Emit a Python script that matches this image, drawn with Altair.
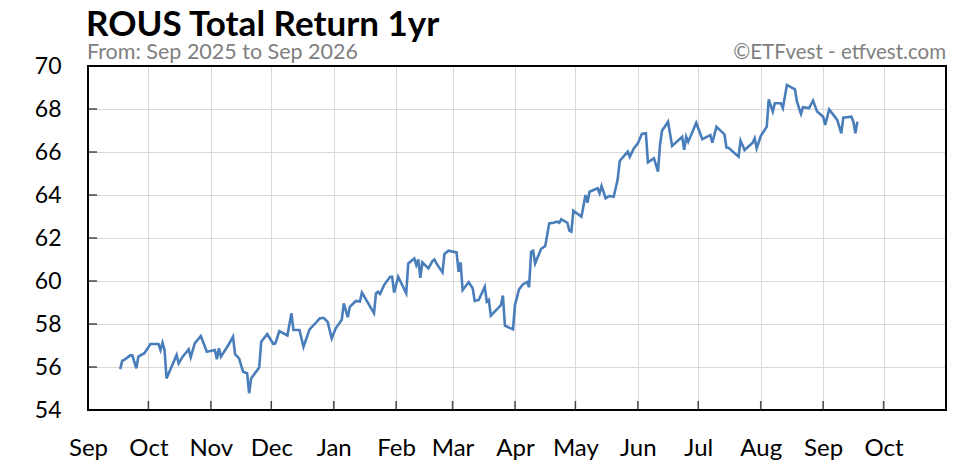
import altair as alt
import pandas as pd

title_text = "ROUS Total Return 1yr"
subtitle_text = "From: Sep 2025 to Sep 2026"
credit_text = "\u00a9ETFvest - etfvest.com"

dates = ["2025-09-17","2025-09-18","2025-09-19","2025-09-22","2025-09-23","2025-09-25","2025-09-26","2025-09-29",
         "2025-10-02","2025-10-06","2025-10-07","2025-10-08","2025-10-09","2025-10-10","2025-10-15","2025-10-16",
         "2025-10-18","2025-10-21","2025-10-22","2025-10-24","2025-10-27","2025-10-30","2025-11-03","2025-11-04",
         "2025-11-05","2025-11-06","2025-11-10","2025-11-12","2025-11-13","2025-11-15","2025-11-17","2025-11-19",
         "2025-11-20","2025-11-21","2025-11-25","2025-11-26","2025-11-29","2025-12-02","2025-12-03","2025-12-05",
         "2025-12-09","2025-12-11","2025-12-12","2025-12-15","2025-12-17","2025-12-20","2025-12-24","2025-12-25",
         "2025-12-27","2025-12-29","2025-12-31","2026-01-02","2026-01-05","2026-01-06","2026-01-08","2026-01-09",
         "2026-01-12","2026-01-14","2026-01-15","2026-01-21","2026-01-22","2026-01-23","2026-01-24","2026-01-26",
         "2026-01-29","2026-01-30","2026-01-31","2026-02-02","2026-02-06","2026-02-07","2026-02-10","2026-02-11",
         "2026-02-12","2026-02-13","2026-02-14","2026-02-17","2026-02-19","2026-02-20","2026-02-21","2026-02-24",
         "2026-02-25","2026-02-27","2026-03-03","2026-03-04","2026-03-05","2026-03-06","2026-03-09","2026-03-11",
         "2026-03-12","2026-03-14","2026-03-17","2026-03-18","2026-03-19","2026-03-20","2026-03-25","2026-03-26",
         "2026-03-27","2026-03-31","2026-04-01","2026-04-03","2026-04-05","2026-04-07","2026-04-08","2026-04-09",
         "2026-04-10","2026-04-11","2026-04-14","2026-04-16","2026-04-18","2026-04-20","2026-04-22","2026-04-23",
         "2026-04-24","2026-04-27","2026-04-28","2026-04-29","2026-04-30","2026-05-04","2026-05-06","2026-05-07",
         "2026-05-08","2026-05-12","2026-05-13","2026-05-14","2026-05-16","2026-05-18","2026-05-20","2026-05-22",
         "2026-05-23","2026-05-27","2026-05-28","2026-05-30","2026-06-01","2026-06-03","2026-06-05","2026-06-06",
         "2026-06-09","2026-06-11","2026-06-12","2026-06-13","2026-06-16","2026-06-18","2026-06-23","2026-06-24",
         "2026-06-25","2026-06-26","2026-06-30","2026-07-03","2026-07-07","2026-07-08","2026-07-10","2026-07-14",
         "2026-07-15","2026-07-16","2026-07-21","2026-07-22","2026-07-24","2026-07-28","2026-07-29","2026-07-30",
         "2026-08-01","2026-08-04","2026-08-05","2026-08-07","2026-08-08","2026-08-11","2026-08-12","2026-08-14",
         "2026-08-18","2026-08-19","2026-08-21","2026-08-22","2026-08-25","2026-08-27","2026-08-29","2026-09-01",
         "2026-09-02","2026-09-04","2026-09-08","2026-09-10","2026-09-11","2026-09-15","2026-09-16","2026-09-17",
         "2026-09-18"]

values = [55.9,56.29,56.33,56.54,56.54,55.94,56.48,56.64,
          57.07,57.07,56.79,57.13,56.79,55.47,56.56,56.17,
          56.48,56.82,56.45,57.1,57.44,56.71,56.79,56.36,
          56.87,56.48,57.07,57.41,56.6,56.4,55.78,55.71,
          54.78,55.47,55.98,57.18,57.53,57.07,57.1,57.67,
          57.47,58.5,57.72,57.72,56.94,57.75,58.15,58.26,
          58.29,58.1,57.33,57.8,58.2,58.96,58.31,58.8,
          59.07,59.04,59.46,58.5,59.43,59.5,59.4,59.81,
          60.2,60.2,59.46,60.2,59.43,60.82,61.05,60.74,
          61.0,60.15,60.87,60.59,60.93,61.0,60.82,60.4,
          61.26,61.41,61.33,60.43,60.87,59.58,59.94,59.66,
          59.07,59.12,59.74,59.04,59.12,58.39,58.88,59.32,
          57.92,57.75,58.88,59.61,59.85,59.95,59.71,61.36,
          61.41,60.82,61.5,61.62,62.68,62.71,62.76,62.71,
          62.87,62.71,62.34,62.29,63.27,62.99,64.0,63.64,
          64.15,64.31,64.08,64.42,63.85,63.96,63.92,64.73,
          65.58,66.02,65.78,66.17,66.4,66.84,66.87,65.52,
          65.71,65.09,66.33,66.99,67.41,66.28,66.71,66.1,
          66.71,66.47,67.36,66.6,66.79,66.43,67.18,66.82,
          66.21,66.2,65.78,66.53,66.09,66.43,66.64,66.17,
          66.74,67.18,68.45,67.88,68.27,68.27,68.04,69.12,
          68.91,68.34,67.77,68.08,68.04,68.39,67.88,67.64,
          67.26,67.98,67.49,66.87,67.6,67.64,67.41,66.87,
          67.41]

axis_months = [(2025, 9), (2025, 10), (2025, 11), (2025, 12), (2026, 1), (2026, 2), (2026, 3),
               (2026, 4), (2026, 5), (2026, 6), (2026, 7), (2026, 8), (2026, 9), (2026, 10)]
tick_months = ["2025-10-01","2025-11-01","2025-12-01","2026-01-01","2026-02-01","2026-03-01","2026-04-01",
               "2026-05-01","2026-06-01","2026-07-01","2026-08-01","2026-09-01","2026-10-01"]
y_values = [54, 56, 58, 60, 62, 64, 66, 68, 70]
x_start = (2025, 9, 1)
x_end = (2026, 11, 1)

W, H = 858, 344
FONT = "Lato"

n = min(len(dates), len(values))
df = pd.DataFrame({"date": dates[:n], "value": values[:n]})

xscale = alt.Scale(type="utc",
                   domain=[alt.DateTime(year=x_start[0], month=x_start[1], date=x_start[2], utc=True),
                           alt.DateTime(year=x_end[0], month=x_end[1], date=x_end[2], utc=True)])
yscale = alt.Scale(domain=[y_values[0], y_values[-1]], nice=False, zero=False)
xvals = [alt.DateTime(year=y, month=m, date=1, utc=True) for y, m in axis_months]

xaxis = alt.Axis(values=xvals, format="%b", title=None, labelFlush=False, labelOverlap=False,
                 labelPadding=26, labelFontSize=24, grid=True)
yaxis = alt.Axis(values=y_values, title=None, labelPadding=27, labelFontSize=23, grid=True)

line = alt.Chart(df).mark_line(color="#4a7ebb", strokeWidth=2.6).encode(
    x=alt.X("date:T", scale=xscale, axis=xaxis),
    y=alt.Y("value:Q", scale=yscale, axis=yaxis),
)

xt = alt.Chart(pd.DataFrame({"date": tick_months})).mark_tick(
    orient="vertical", size=18, thickness=1.5, color="black", clip=True
).encode(
    x=alt.X("date:T", scale=xscale, axis=xaxis),
    y=alt.datum(y_values[0]),
)

yt = alt.Chart(pd.DataFrame({"value": y_values})).mark_tick(
    orient="horizontal", size=18, thickness=1.5, color="black", clip=True
).encode(
    x=alt.datum(alt.DateTime(year=x_start[0], month=x_start[1], date=x_start[2], utc=True)),
    y=alt.Y("value:Q", scale=yscale, axis=yaxis),
)

frame = alt.Chart(pd.DataFrame({"k": [0]})).mark_rect(
    fill=None, fillOpacity=0, stroke="black", strokeWidth=2
).encode(x=alt.value(0), x2=alt.value(W), y=alt.value(0), y2=alt.value(H))

texts = alt.Chart(pd.DataFrame({"t": [0]}))

title_mark = texts.mark_text(
    align="left", baseline="alphabetic", font=FONT, fontSize=35, fontWeight="bold", color="black"
).encode(x=alt.value(-2), y=alt.value(-30), text=alt.value(title_text))

subtitle_mark = texts.mark_text(
    align="left", baseline="alphabetic", font=FONT, fontSize=21.5, color="#808080"
).encode(x=alt.value(-1), y=alt.value(-7), text=alt.value(subtitle_text))

credit_mark = texts.mark_text(
    align="right", baseline="alphabetic", font=FONT, fontSize=20.5, color="#808080"
).encode(x=alt.value(W), y=alt.value(-7), text=alt.value(credit_text))

chart = alt.layer(line, xt, yt, frame, title_mark, subtitle_mark, credit_mark).properties(
    width=W, height=H,
    autosize=alt.AutoSizeParams(type="none"),
    padding={"left": 80, "top": 58, "right": 11, "bottom": 55},
).configure_view(stroke=None).configure_axis(
    domain=False, ticks=False, gridColor="#d9d9d9", gridWidth=1,
    labelFont=FONT, labelColor="black"
)

chart.save("out.html", embed_options={"renderer": "svg", "actions": False})
